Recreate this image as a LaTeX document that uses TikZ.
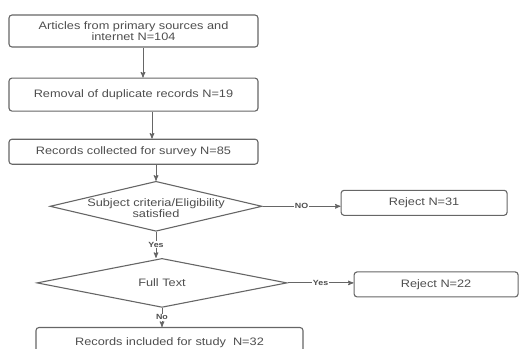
\documentclass[tikz,border=0pt]{standalone}
\usepackage{fontspec}
\setmainfont{Liberation Sans}[FakeStretch=1.18]
\usepackage{xcolor}
\usetikzlibrary{shapes.geometric,positioning,arrows}
\definecolor{linegray}{HTML}{666666}
\definecolor{textgray}{HTML}{4E4E4E}

\tikzset{
  box/.style={draw=linegray, rounded corners=3pt, line width=1.1pt, minimum width=249pt,
    text=textgray, align=center, font=\fontsize{10.8}{11.5}\selectfont},
  dec/.style={draw=linegray, diamond, line width=1.1pt, inner sep=0pt},
  inside/.style={text=textgray, align=center, font=\fontsize{10.8}{11.5}\selectfont},
  tag/.style={fill=white, inner sep=1pt, text=textgray, font=\fontsize{7.5}{8}\selectfont\bfseries}
}

\begin{document}
\begin{tikzpicture}[x=1pt,y=-1pt,>=stealth',flow/.style={->,draw=linegray,line width=1pt}]
	\useasboundingbox (0,0) rectangle (519,348);
	\clip (0,0) rectangle (519,348);

	\node[box,minimum height=32pt] (b1) at (133.5,31) {Articles from primary sources and\\internet N=104};
	\node[box,minimum height=33pt] (b2) [below=30pt of b1] {Removal of duplicate records N=19};
	\node[box,minimum height=25pt] (b3) [below=27pt of b2] {Records collected for survey N=85};
	\node[dec,minimum width=212pt,minimum height=50pt,
	      label={[inside,yshift=-2pt]center:Subject criteria/Eligibility\\satisfied}] (d1) [below=16pt of b3,xshift=22.5pt] {};
	\node[box,minimum width=166pt,minimum height=25pt] (r1) [right=78pt of d1,yshift=3.5pt] {Reject N=31};
	\node[dec,minimum width=250pt,minimum height=49pt,
	      label={[inside]center:Full Text}] (d2) [below=26pt of d1,xshift=6pt] {};
	\node[box,minimum width=164pt,minimum height=25pt] (r2) [right=66pt of d2,yshift=-1.5pt] {Reject N=22};
	\node[box,minimum width=267pt,minimum height=30pt] (b4) [below=19pt of d2,xshift=7.5pt] {Records included for study~~N=32};

	\draw[flow] ([xshift=9.5pt]b1.south) -- ([xshift=9.5pt]b2.north);
	\draw[flow] ([xshift=18.5pt]b2.south) -- ([xshift=18.5pt]b3.north);
	\draw[flow] (d1.north |- b3.south) -- (d1.north);
	\draw[flow] (d1.east) -- node[tag]{NO} (d1.east -| r1.west);
	\draw[flow] (d1.south) -- node[tag]{Yes} (d1.south |- d2.north);
	\draw[flow] (d2.east) -- node[tag]{Yes} (d2.east -| r2.west);
	\draw[flow] (d2.south) -- node[tag]{No} (d2.south |- b4.north);
\end{tikzpicture}
\end{document}
